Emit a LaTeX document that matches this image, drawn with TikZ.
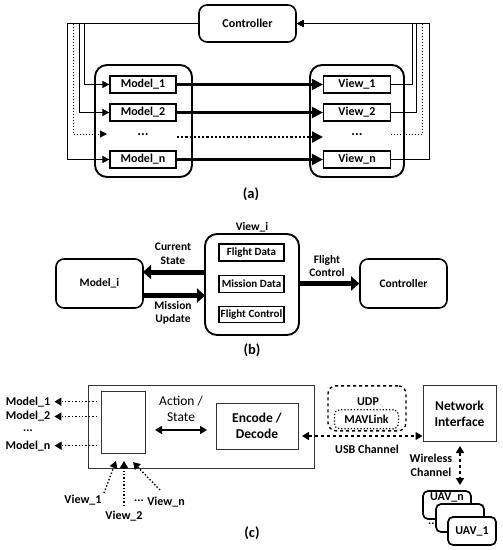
\documentclass[tikz,border=0pt]{standalone}
\usepackage{fontspec}
\setmainfont{Carlito}
\usetikzlibrary{arrows.meta,calc}
\newcommand{\fsz}[1]{\fontsize{#1}{#1}\selectfont}
\begin{document}
\begin{tikzpicture}[x=1pt,y=-1pt,
  every node/.style={font=\bfseries\fsz{12}, inner sep=0pt, align=center},
  grp/.style={draw, line width=1.9pt, rounded corners=12pt},
  ibox/.style={draw, line width=1.2pt, minimum width=66pt, minimum height=17pt},
  rbox/.style={draw, line width=1.6pt, rounded corners=8pt},
  wire/.style={line width=1pt},
  wtip/.style={-{Triangle[length=7pt,width=7pt]}},
  harrow/.style={line width=2.2pt, -{Triangle[length=11pt,width=11pt]}},
  fat/.style={line width=5pt, -{Triangle[length=8pt,width=14pt]}},
  thinbox/.style={draw=black!80, line width=1pt},
  lbl/.style={font=\bfseries\fsz{11.5}, align=center},
  figcap/.style={font=\bfseries\fsz{14.5}},
  dotarr/.style={dotted, line width=1.4pt, -{Triangle[length=7pt,width=8pt]}},
  dasharr/.style={dashed, line width=1.4pt, {Triangle[length=7pt,width=8pt]}-{Triangle[length=7pt,width=8pt]}}
]
\useasboundingbox (0,0) rectangle (503,550);

% ---------------- (a) ----------------
\node[rbox, minimum width=97pt, minimum height=37pt] (ctrl) at (247.5,23.5) {Controller};
\node[grp, minimum width=97pt, minimum height=112pt] (mg) at (143.5,121) {};
\node[grp, minimum width=94pt, minimum height=112pt] (vg) at (357,121) {};
\node[ibox] (m1) at (143,84.5) {Model\_1};
\node[ibox] (m2) at (143,112.5) {Model\_2};
\node[font=\bfseries\fsz{14}] (md) at (143,135) {...};
\node[ibox] (mn) at (143,159.5) {Model\_n};
\node[ibox, minimum width=67pt] (v1) at (357,84.5) {View\_1};
\node[ibox, minimum width=67pt] (v2) at (357,112.5) {View\_2};
\node[font=\bfseries\fsz{14}] (vd) at (357,135) {...};
\node[ibox, minimum width=67pt] (vn) at (357,159.5) {View\_n};

\draw[harrow] (m1) -- (v1);
\draw[harrow] (m2) -- (v2);
\draw[harrow] (mn) -- (vn);
\coordinate (mdr) at (177,137);
\coordinate (vdl) at (323,137);
\draw[harrow, dotted] (mdr) -- (vdl);

% left wiring
\coordinate (l1) at (84.5,84.5);
\coordinate (l2) at (79.5,112.5);
\coordinate (ld) at (73,134);
\coordinate (ldt) at (73,23.5);
\coordinate (ldh) at (107,134);
\coordinate (ln) at (67,159.5);
\draw[wire, wtip] (ctrl.west) -| (l1) -- (m1.west);
\draw[wire, wtip] (ctrl.west) -| (l2) -- (m2.west);
\draw[wire, wtip] (ctrl.west) -| (ln) -- (mn.west);
\draw[wire, dotted, wtip] (ldt) -- (ld) -- (ldh);

% right wiring
\coordinate (r1) at (412.5,84.5);
\coordinate (r2) at (416.5,112.5);
\coordinate (rds) at (391,134);
\coordinate (rd) at (422.5,134);
\coordinate (rdt) at (422.5,23.5);
\coordinate (rn) at (429,159.5);
\draw[wire, wtip] (v1.east) -| (r1) |- (ctrl.east);
\draw[wire, wtip] (v2.east) -| (r2) |- (ctrl.east);
\draw[wire, wtip] (vn.east) -| (rn) |- (ctrl.east);
\draw[wire, dotted] (rds) -- (rd) -- (rdt);

\node[figcap] (capa) at (251,194) {(a)};

% ---------------- (b) ----------------
\node[grp, minimum width=94pt, minimum height=101pt] (vib) at (252,284.5) {};
\node[lbl] (vit) at (252,227) {View\_i};
\node[ibox, minimum width=65pt, minimum height=17pt, font=\bfseries\fsz{11}] (fd) at (251.5,252.5) {Flight Data};
\node[ibox, minimum width=65pt, minimum height=17pt, font=\bfseries\fsz{11}] (mdat) at (251.5,284) {Mission Data};
\node[ibox, minimum width=65pt, minimum height=16pt, font=\bfseries\fsz{11}] (fc) at (251.5,314.5) {Flight Control};
\node[rbox, minimum width=87pt, minimum height=49pt, font=\bfseries\fsz{11.5}] (mi) at (99.5,283.5) {Model\_i};
\node[rbox, minimum width=87pt, minimum height=49pt, font=\bfseries\fsz{11.5}] (cb) at (403.5,283.5) {Controller};

\coordinate (cs1) at (205,272);
\coordinate (cs2) at (143,272);
\coordinate (mu1) at (143,295.5);
\coordinate (mu2) at (205,295.5);
\draw[fat] (cs1) -- (cs2);
\draw[fat] (mu1) -- (mu2);
\draw[fat] (vib.east |- cb.west) -- (cb.west);

\node[lbl] (lcs) at (173,254) {Current\\[2pt]State};
\node[lbl] (lmu) at (173,313) {Mission\\[2pt]Update};
\node[lbl] (lfc) at (327,266) {Flight\\[2pt]Control};

\node[figcap] (capb) at (252,350) {(b)};

% ---------------- (c) ----------------
\node[thinbox, minimum width=226pt, minimum height=83pt] (big) at (201,427.3) {};
\node[thinbox, minimum width=44pt, minimum height=62pt] (inner) at (123.7,422.9) {};
\node[font=\fsz{13.5}] (as) at (181,409) {Action /\\[3pt]State};
\node[thinbox, minimum width=82pt, minimum height=46pt, font=\bfseries\fsz{13.5}] (enc) at (257,426) {Encode /\\[3pt]Decode};
\coordinate (asl) at (155,430);
\coordinate (asr) at (207,430);
\draw[line width=1.4pt, {Triangle[length=7pt,width=8pt]}-{Triangle[length=7pt,width=8pt]}] (asl) -- (asr);

\node[draw, dashed, line width=1.4pt, rounded corners=8pt, minimum width=78pt, minimum height=45pt] (udp) at (367,408.3) {};
\node (udpt) at (368,401.7) {UDP};
\node[draw, dotted, line width=1.2pt, rounded corners=5pt, minimum width=64pt, minimum height=19pt] (mav) at (366.5,419.3) {MAVLink};

\node[thinbox, minimum width=73pt, minimum height=56pt, font=\bfseries\fsz{13.5}] (ni) at (459.5,413.7) {Network\\[3pt]Interface};
\coordinate (usbl) at (302,436);
\coordinate (usbr) at (ni.west |- usbl);
\draw[dasharr] (usbl) -- (usbr);
\node (usb) at (367,449) {USB Channel};

\node[rbox, line width=1.7pt, rounded corners=5pt, minimum width=48pt, minimum height=28pt, fill=white] (uavn) at (447,505) {};
\node (uavnt) at (447,497.5) {UAV\_n};
\node[rbox, line width=1.7pt, rounded corners=5pt, minimum width=48pt, minimum height=28pt, fill=white] (uavm) at (460,518) {};
\node[rbox, line width=1.7pt, rounded corners=5pt, minimum width=48pt, minimum height=28pt, fill=white] (uav1) at (472,531) {UAV\_1};
\node (uavd) at (433,524) {...};

\coordinate (wt) at (460,446);
\coordinate (wb) at (460,485);
\draw[dasharr] (wt) -- (wb);
\node (wl) at (431,465.5) {Wireless\\[2pt]Channel};

% model labels
\node (cm1) at (28,401.7) {Model\_1};
\node (cm2) at (28,416.5) {Model\_2};
\node (cmd) at (28,431) {...};
\node (cmn) at (28,445.7) {Model\_n};
\coordinate (cs1a) at (97,401.7);
\coordinate (cs2a) at (97,416.5);
\coordinate (csna) at (97,445.7);
\draw[dotarr, shorten >=4pt] (cs1a) -- (cm1.east);
\draw[dotarr, shorten >=4pt] (cs2a) -- (cm2.east);
\draw[dotarr, shorten >=4pt] (csna) -- (cmn.east);

% view labels
\node (cv1) at (83,500) {View\_1};
\node (cv2) at (124,515.7) {View\_2};
\node (cvd) at (139,501) {...};
\node (cvn) at (166,502) {View\_n};
\coordinate (a1s) at (104,493);
\coordinate (a1e) at (116,461);
\coordinate (a2s) at (124,506);
\coordinate (a2e) at (124,461);
\coordinate (ans) at (160,490);
\coordinate (ane) at (133,462);
\draw[dotarr] (a1s) -- (a1e);
\draw[dotarr] (a2s) -- (a2e);
\draw[dotarr] (ans) -- (ane);

\node[figcap] (capc) at (252,533) {(c)};
\end{tikzpicture}
\end{document}
